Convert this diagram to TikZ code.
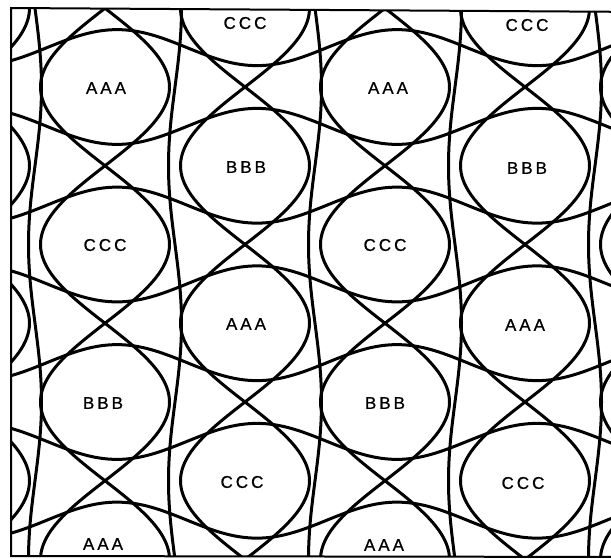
\documentclass[tikz,border=0pt]{standalone}
\usepackage{fontspec}
\newfontfamily\labfont[FakeBold=0.8]{Liberation Sans}
\newcommand\mysp{\kern3pt}
\begin{document}
\begin{tikzpicture}[x=1pt,y=-1pt,
  curve/.style={line width=3pt, line join=round},
  frame/.style={line width=2pt},
  lab/.style={font=\labfont\fontsize{17}{18}\selectfont, inner sep=0pt}]
\useasboundingbox (0,0) rectangle (611,558);
\fill[white] (0,0) rectangle (611,558);
\begin{scope}
\clip (11,8) -- (650,12) -- (650,557) -- (11,556) -- cycle;
% vertical lemon chains
\foreach \k in {-1,...,4} {
  \pgfmathsetmacro\xc{105+140*\k}
  \pgfmathsetmacro\yo{87-78.75*mod(\k+2,2)}
  \draw[curve] plot[domain=-20:580, samples=160, smooth] ({\xc+64.5*cos(1.142857*(\x-\yo))}, {\x});
  \draw[curve] plot[domain=-20:580, samples=160, smooth] ({\xc-64.5*cos(1.142857*(\x-\yo))}, {\x});
}
% near-vertical waves between columns
\foreach \k in {-1,...,4} {
  \pgfmathsetmacro\xm{105+140*\k+70}
  \pgfmathsetmacro\yn{87-78.75*mod(\k+3,2)}
  \draw[curve] plot[domain=-20:580, samples=100, smooth] ({\xm+6.5*cos(1.142857*(\x-\yn))}, {\x});
}
% horizontal waves between rows
\foreach \j in {0,...,6} {
  \pgfmathsetmacro\ym{8.25+78.75*\j+39.375}
  \pgfmathsetmacro\xj{245-140*mod(\j+2,2)}
  \draw[curve] plot[domain=0:630, samples=140, smooth] ({\x}, {\ym+18*cos(1.285714*(\x-\xj-12))});
}
\end{scope}
\draw[frame] (650,12) -- (11,8) -- (11,556) -- (650,557);
% labels
\node[lab] (c1) at (245,23) {C\mysp C\mysp C};
\node[lab] (c2) at (527,25) {C\mysp C\mysp C};
\node[lab] (a1) at (106,88) {A\mysp A\mysp A};
\node[lab] (a2) at (388,88) {A\mysp A\mysp A};
\node[lab] (b1) at (246,167) {B\mysp B\mysp B};
\node[lab] (b2) at (527,168) {B\mysp B\mysp B};
\node[lab] (c3) at (105,245) {C\mysp C\mysp C};
\node[lab] (c4) at (385,245) {C\mysp C\mysp C};
\node[lab] (a3) at (246,324) {A\mysp A\mysp A};
\node[lab] (a4) at (525,325) {A\mysp A\mysp A};
\node[lab] (b3) at (103,403) {B\mysp B\mysp B};
\node[lab] (b4) at (385,403) {B\mysp B\mysp B};
\node[lab] (c5) at (242,482) {C\mysp C\mysp C};
\node[lab] (c6) at (523,483) {C\mysp C\mysp C};
\node[lab] (a5) at (103,544) {A\mysp A\mysp A};
\node[lab] (a6) at (384,545) {A\mysp A\mysp A};
\end{tikzpicture}
\end{document}
